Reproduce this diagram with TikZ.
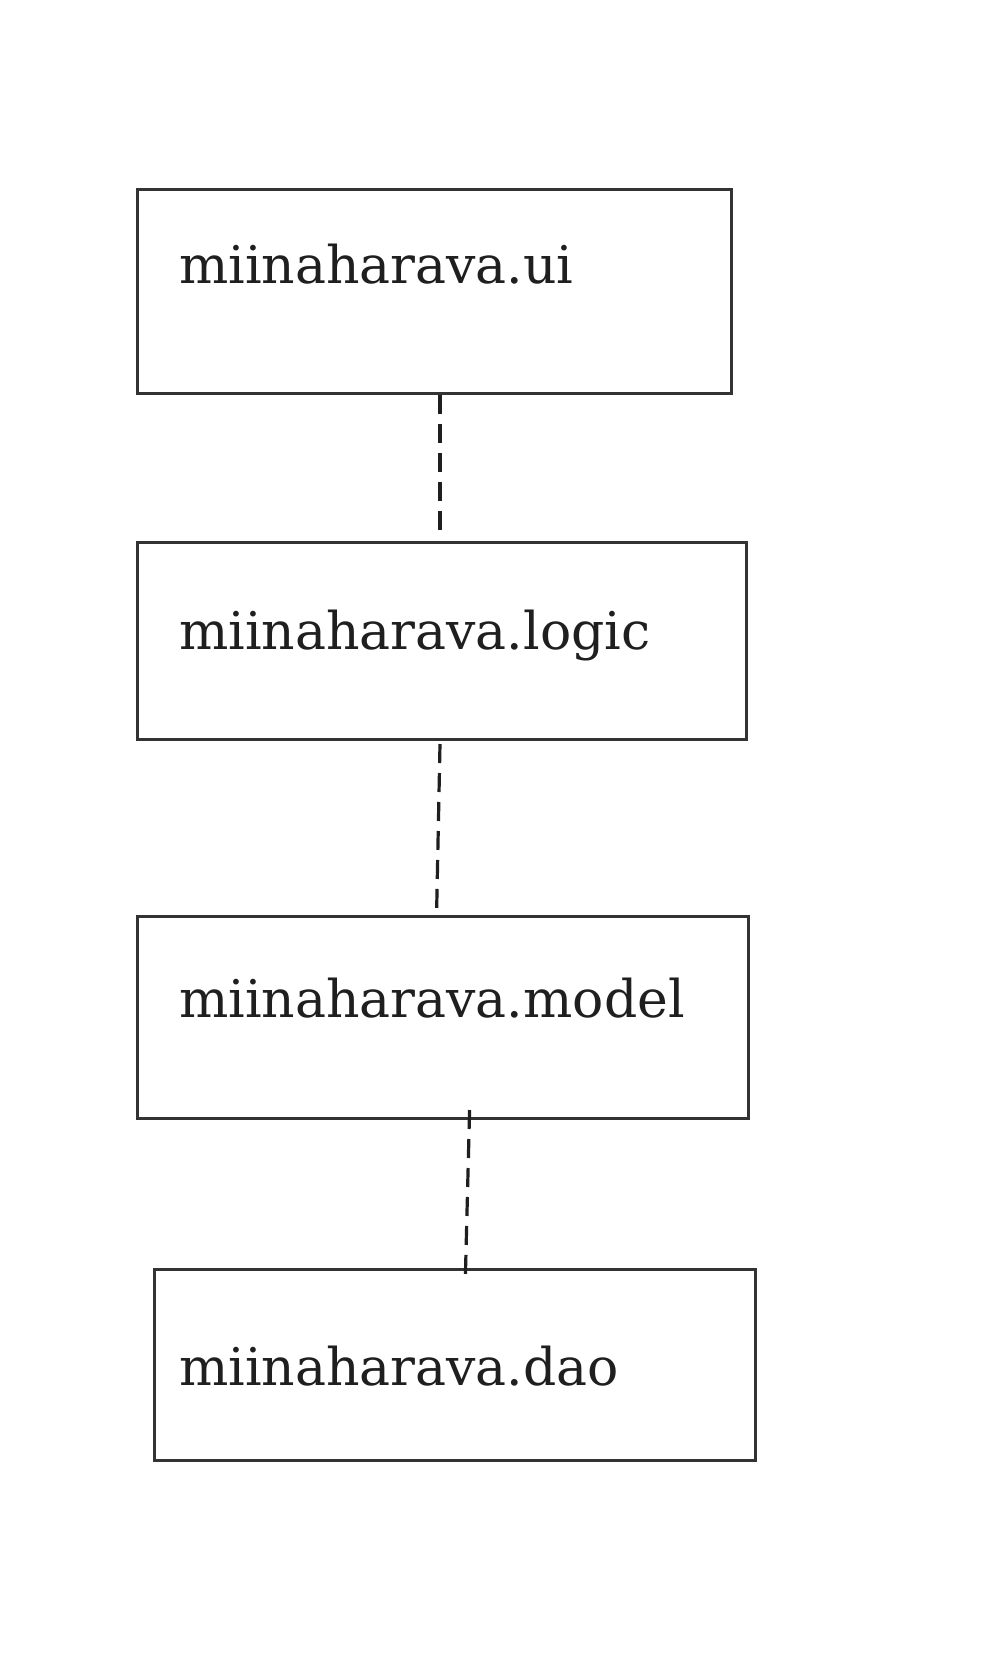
\documentclass[tikz,border=0pt]{standalone}
\usepackage{fontspec}
\setmainfont{DejaVu Serif}
\begin{document}
\begin{tikzpicture}[x=1pt,y=-1pt,
  pkgbox/.style={draw=black!80, line width=3.2pt, rectangle, inner sep=0pt, anchor=north west},
  lbl/.style={anchor=base west, inner sep=0pt, font=\fontsize{52}{60}\selectfont, text=black!88},
  dep/.style={draw=black!88, line width=3.2pt, dash pattern=on 19pt off 10pt}]
\useasboundingbox[fill=white] (0,0) rectangle (982,1674);
\node[pkgbox, minimum width=594.5pt, minimum height=203.8pt] (ui) at (135.6,187.9) {};
\node[pkgbox, minimum width=609.4pt, minimum height=196.6pt] (logic) at (135.6,541.2) {};
\node[pkgbox, minimum width=611.6pt, minimum height=201.7pt] (model) at (135.6,914.8) {};
\node[pkgbox, minimum width=601pt, minimum height=191pt] (dao) at (152.6,1268.1) {};
\node[lbl] (uit) at (179,283) {miinaharava.ui};
\node[lbl] (logict) at (179,649) {miinaharava.logic};
\node[lbl] (modelt) at (179,1017) {miinaharava.model};
\node[lbl] (daot) at (179,1385) {miinaharava.dao};
\coordinate (a1) at (ui.south -| 440,0);
\coordinate (a2) at (440,530);
\coordinate (b1) at (440,744);
\coordinate (b2) at (436.6,912.6);
\coordinate (c1) at (469.6,1110);
\coordinate (c2) at (465.4,1275.5);
\draw[dep] (a1) -- (a2);
\draw[dep] (b1) -- (b2);
\draw[dep] (c1) -- (c2);
\end{tikzpicture}
\end{document}
